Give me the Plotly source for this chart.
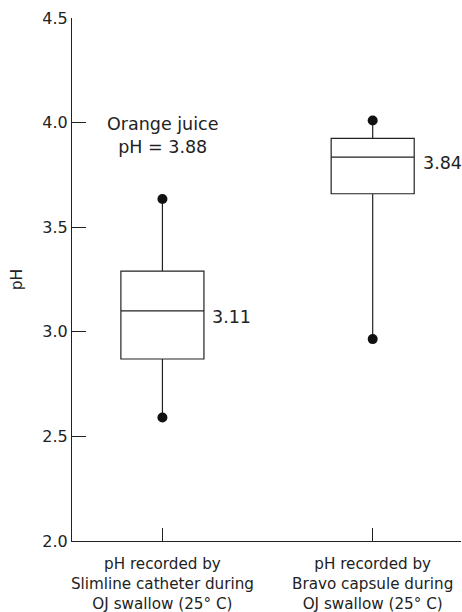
import plotly.graph_objects as go

categories = ["pH recorded by<br>Slimline catheter during<br>OJ swallow (25° C)",
              "pH recorded by<br>Bravo capsule during<br>OJ swallow (25° C)"]
q1 = [2.87, 3.66]
median = [3.10, 3.835]
q3 = [3.29, 3.925]
lower = [2.59, 2.965]
upper = [3.635, 4.01]
median_labels = ["3.11", "3.84"]
oj_text = "Orange juice<br>pH = 3.88"

FONT = "DejaVu Sans"
ink = "#222222"

fig = go.Figure()
xs = [0, 1]
fig.add_trace(go.Box(
    x=xs, q1=q1, median=median, q3=q3, lowerfence=lower, upperfence=upper,
    width=0.395, whiskerwidth=0, fillcolor="rgba(0,0,0,0)",
    line=dict(color=ink, width=1.2), boxpoints=False, showlegend=False,
    hoverinfo="skip"))
fig.add_trace(go.Scatter(
    x=xs + xs, y=lower + upper, mode="markers",
    marker=dict(color="#111111", size=10), showlegend=False, hoverinfo="skip"))

for i in range(2):
    fig.add_annotation(x=xs[i], y=median[i], text=median_labels[i], showarrow=False,
                       xanchor="left", yanchor="middle", xshift=48, yshift=-6,
                       font=dict(family=FONT, size=17.5, color=ink))
fig.add_annotation(x=0, y=3.94, text=oj_text, showarrow=False,
                   xanchor="center", yanchor="middle", xshift=0,
                   font=dict(family=FONT, size=17.5, color=ink))

fig.update_layout(
    width=462, height=612, margin=dict(l=72, r=1, t=18, b=71),
    paper_bgcolor="white", plot_bgcolor="white",
    font=dict(family=FONT, size=15, color=ink),
    xaxis=dict(range=[-0.43, 1.42], tickmode="array", tickvals=xs, ticktext=categories,
               ticks="inside", ticklen=13, tickcolor=ink, showline=True, linecolor=ink,
               linewidth=1, showgrid=False, zeroline=False, ticklabelstandoff=9,
               automargin=False,
               tickfont=dict(family=FONT, size=15.2, color=ink)),
    yaxis=dict(range=[2.0, 4.5], tickvals=[2.0, 2.5, 3.0, 3.5, 4.0, 4.5],
               ticktext=["2.0", "2.5", "3.0", "3.5", "4.0", "4.5"],
               ticks="inside", ticklen=14, tickcolor=ink, showline=True, linecolor=ink,
               linewidth=1, showgrid=False, zeroline=False, automargin=False,
               title=dict(text="pH", standoff=15, font=dict(family=FONT, size=15.5, color=ink)),
               tickfont=dict(family=FONT, size=16, color=ink)),
)
fig.write_html("out.html")
